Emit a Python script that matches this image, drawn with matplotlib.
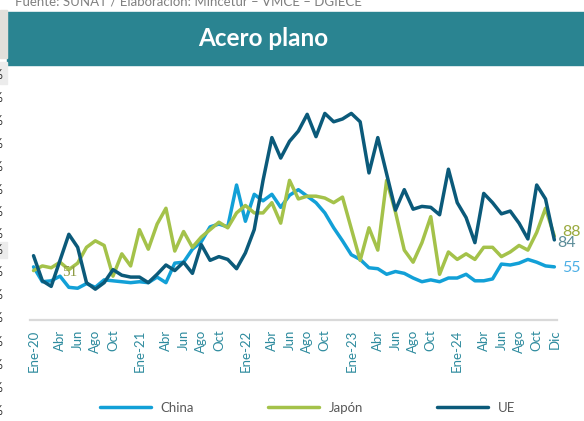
import matplotlib
matplotlib.use("Agg")
import matplotlib.pyplot as plt
from matplotlib.patches import Rectangle

# Monthly series Ene-2020 .. Dic-2024
china = [55, 39, 40, 45, 33, 32, 37, 33, 41, 40, 39, 38,
         39, 38, 44, 38, 59, 60, 74, 82, 98, 101, 98, 143,
         104, 133, 126, 133, 119, 132, 138, 131, 124, 113, 97, 83,
         68, 63, 54, 53, 47, 50, 48, 43, 39, 41, 39, 43,
         43, 47, 40, 40, 42, 58, 57, 59, 63, 60, 56, 55]
japon = [51, 56, 54, 60, 52, 59, 76, 83, 78, 45, 69, 56,
         95, 74, 101, 118, 72, 93, 76, 87, 95, 103, 97, 113,
         121, 113, 113, 124, 102, 148, 128, 131, 131, 129, 124, 130,
         96, 62, 97, 73, 148, 114, 73, 60, 81, 109, 47, 71,
         63, 69, 63, 76, 76, 66, 71, 78, 73, 92, 118, 88]
ue = [67, 40, 34, 62, 90, 76, 38, 31, 38, 52, 46, 44,
      44, 38, 47, 57, 51, 60, 48, 79, 62, 66, 63, 53,
      70, 95, 148, 194, 172, 190, 201, 219, 195, 220, 211, 214,
      220, 211, 156, 194, 155, 116, 138, 117, 120, 119, 111, 160,
      124, 108, 81, 134, 124, 112, 115, 102, 85, 143, 128, 84]

tick_pos = [0, 3, 5, 7, 9, 12, 15, 17, 19, 21, 24, 27, 29, 31, 33,
            36, 39, 41, 43, 45, 48, 51, 53, 55, 57, 59]
tick_lbl = ["Ene-20", "Abr", "Jun", "Ago", "Oct",
            "Ene-21", "Abr", "Jun", "Ago", "Oct",
            "Ene-22", "Abr", "Jun", "Ago", "Oct",
            "Ene-23", "Abr", "Jun", "Ago", "Oct",
            "Ene-24", "Abr", "Jun", "Ago", "Oct", "Dic"]

c_china = "#12A0D7"
c_japon = "#A4C24A"
c_ue = "#0B5A7A"
teal = "#2A8491"

plt.rcParams['font.family'] = ['Lato', 'DejaVu Sans']

W, H = 584, 421
fig = plt.figure(figsize=(W / 100, H / 100), dpi=100)

def fx(px):
    return px / W

def fy(py):
    return 1 - py / H

# cropped source line at the very top
fig.text(fx(15), fy(5.5), "Fuente: SUNAT / Elaboración: Mincetur – VMCE – DGIECE",
         fontsize=9.5, color="#808080", ha="left", va="baseline")

# title banner
fig.patches.append(Rectangle((fx(7), fy(65)), fx(584 - 7), (65 - 12) / H,
                             transform=fig.transFigure, color=teal, zorder=0))
fig.text(fx(263), fy(38.5), "Acero plano", fontsize=17.5, fontweight="bold",
         color="white", ha="center", va="center")

# spreadsheet bits at the left edge
fig.patches.append(Rectangle((0, fy(58)), fx(7), 48 / H, transform=fig.transFigure,
                             color="#E2E0DB", zorder=0))
fig.patches.append(Rectangle((0, fy(84)), fx(7), 22 / H, transform=fig.transFigure,
                             color="#ECECEC", zorder=0))
fig.patches.append(Rectangle((0, fy(258)), fx(7), 16 / H, transform=fig.transFigure,
                             color="#ECECEC", zorder=0))
for py in [75, 98, 121, 144, 167, 190, 212, 234, 250, 272, 295, 318, 342, 365, 388, 411]:
    fig.text(fx(2.5), fy(py), "%", fontsize=9, color="#333333", ha="right", va="center")

ax = fig.add_axes([fx(30), fy(320), fx(557 - 30), (320 - 75) / H])
x = list(range(len(ue)))
kw = dict(lw=2.5, solid_joinstyle="round", solid_capstyle="round")
ax.plot(x, china, color=c_china, label="China", **kw)
ax.plot(x, japon, color=c_japon, label="Japón", **kw)
ax.plot(x, ue, color=c_ue, label="UE", **kw)

ax.set_xlim(-0.4, 59.3)
ax.set_ylim(-2.15, 261.3)
ax.set_yticks([])
ax.set_xticks(tick_pos)
ax.set_xticklabels(tick_lbl, rotation=90, fontsize=9.5, color="#2E8B9E")
ax.tick_params(axis="x", length=0, pad=7)
for s in ["top", "left", "right"]:
    ax.spines[s].set_visible(False)
ax.spines["bottom"].set_color("#D9D9D9")
ax.spines["bottom"].set_linewidth(1.6)

# data labels
ax.annotate("51", (0, japon[0]), xytext=(36.5, -2), textcoords="offset pixels",
            ha="center", va="center", fontsize=11, color="#8E9B45",
            family="Liberation Serif", annotation_clip=False)
ax.annotate(str(japon[-1]), (59, japon[-1]), xytext=(17, 4.5), textcoords="offset pixels",
            ha="center", va="center", fontsize=11.5, color="#9AAA3E", annotation_clip=False)
ax.annotate(str(ue[-1]), (59, ue[-1]), xytext=(12, -3.5), textcoords="offset pixels",
            ha="center", va="center", fontsize=11.5, color="#5B8C98", annotation_clip=False)
ax.annotate(str(china[-1]), (59, china[-1]), xytext=(17, -1), textcoords="offset pixels",
            ha="center", va="center", fontsize=11.5, color="#4DAFE5", annotation_clip=False)

fig.legend(loc="center", bbox_to_anchor=(fx(307.5), fy(408)), ncol=3, frameon=False,
           fontsize=9.5, handlelength=3.9, handletextpad=0.7, columnspacing=5.6,
           labelcolor="#595959")

fig.savefig("out.png", dpi=100)
